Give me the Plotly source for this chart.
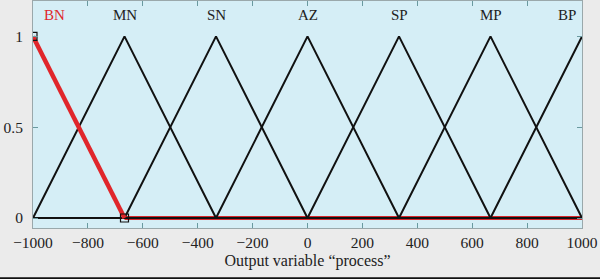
import plotly.graph_objects as go

# Membership function names and breakpoints (x, y)
names = ["BN", "MN", "SN", "AZ", "SP", "MP", "BP"]
peaks = [-1000, -666.67, -333.33, 0, 333.33, 666.67, 1000]
mn_x = [-1000, -1000, -666.67, -333.33, 1000]
mn_y = [0, 0, 1, 0, 0]
sn_x = [-1000, -666.67, -333.33, 0, 1000]
sn_y = [0, 0, 1, 0, 0]
az_x = [-1000, -333.33, 0, 333.33, 1000]
az_y = [0, 0, 1, 0, 0]
sp_x = [-1000, 0, 333.33, 666.67, 1000]
sp_y = [0, 0, 1, 0, 0]
mp_x = [-1000, 333.33, 666.67, 1000, 1000]
mp_y = [0, 0, 1, 0, 0]
bp_x = [-1000, 666.67, 1000]
bp_y = [0, 0, 1]
bn_x = [-1000, -666.67, 1000]
bn_y = [1, 0, 0]
x_ticks = [-1000, -800, -600, -400, -200, 0, 200, 400, 600, 800, 1000]
y_ticks = [0, 0.5, 1]

fig = go.Figure()
# BN zero segment beneath
fig.add_trace(go.Scatter(x=bn_x[1:], y=bn_y[1:], mode="lines",
                         line=dict(color="#d8262b", width=4), hoverinfo="skip"))
for xs, ys in [(mn_x, mn_y), (sn_x, sn_y), (az_x, az_y), (sp_x, sp_y), (mp_x, mp_y), (bp_x, bp_y)]:
    fig.add_trace(go.Scatter(x=xs, y=ys, mode="lines",
                             line=dict(color="#111111", width=2)))
# BN sloped part on top
fig.add_trace(go.Scatter(x=bn_x[:2], y=bn_y[:2], mode="lines",
                         line=dict(color="#e0262b", width=4.5)))
fig.add_trace(go.Scatter(x=bn_x[:2], y=bn_y[:2], mode="markers",
                         marker=dict(symbol="square-open", size=8, color="#111111",
                                     line=dict(width=1.2))))

serif = "Liberation Serif, Times New Roman, serif"
for n, p in zip(names, peaks):
    if n == "BN":
        anchor, shift = "left", 9
    elif n == "BP":
        anchor, shift = "right", -4
    else:
        anchor, shift = "center", 0
    fig.add_annotation(x=p, y=1.12, text=n, showarrow=False,
                       font=dict(family=serif, size=15,
                                 color="#e0262b" if n == "BN" else "#222222"),
                       xanchor=anchor, xshift=shift, yanchor="middle")

# bottom black border
fig.add_shape(type="rect", xref="paper", yref="paper", x0=-0.1, x1=1.1,
              y0=-0.24, y1=-0.2165, line=dict(width=0), fillcolor="#111111")
fig.update_layout(
    width=600, height=279,
    margin=dict(l=33, r=18, t=1, b=51),
    paper_bgcolor="#ebebeb",
    plot_bgcolor="#d5eef6",
    showlegend=False,
    font=dict(family=serif, size=15, color="#222222"),
    xaxis=dict(range=[-1000, 1000], tickvals=x_ticks, ticks="inside", ticklen=5,
               tickcolor="#6a9aa0", showgrid=False, zeroline=False, mirror="ticks",
               showline=True, linecolor="#9aa8ab", linewidth=1, automargin=False,
               tickfont=dict(size=15.5),
               title=dict(text="Output variable “process”", standoff=5,
                          font=dict(family=serif, size=16))),
    yaxis=dict(range=[-0.055, 1.195], tickvals=y_ticks, ticktext=["0", "0.5", "1"],
               ticks="inside", ticklen=5, tickcolor="#6a9aa0", showgrid=False,
               zeroline=False, mirror="ticks", showline=True, linecolor="#9aa8ab",
               linewidth=1, automargin=False, ticklabelstandoff=6,
               tickfont=dict(size=15.5)),
)
fig.write_html("out.html", config={"displayModeBar": False},
               post_script="document.body.style.margin='0';document.body.style.overflow='hidden';")
